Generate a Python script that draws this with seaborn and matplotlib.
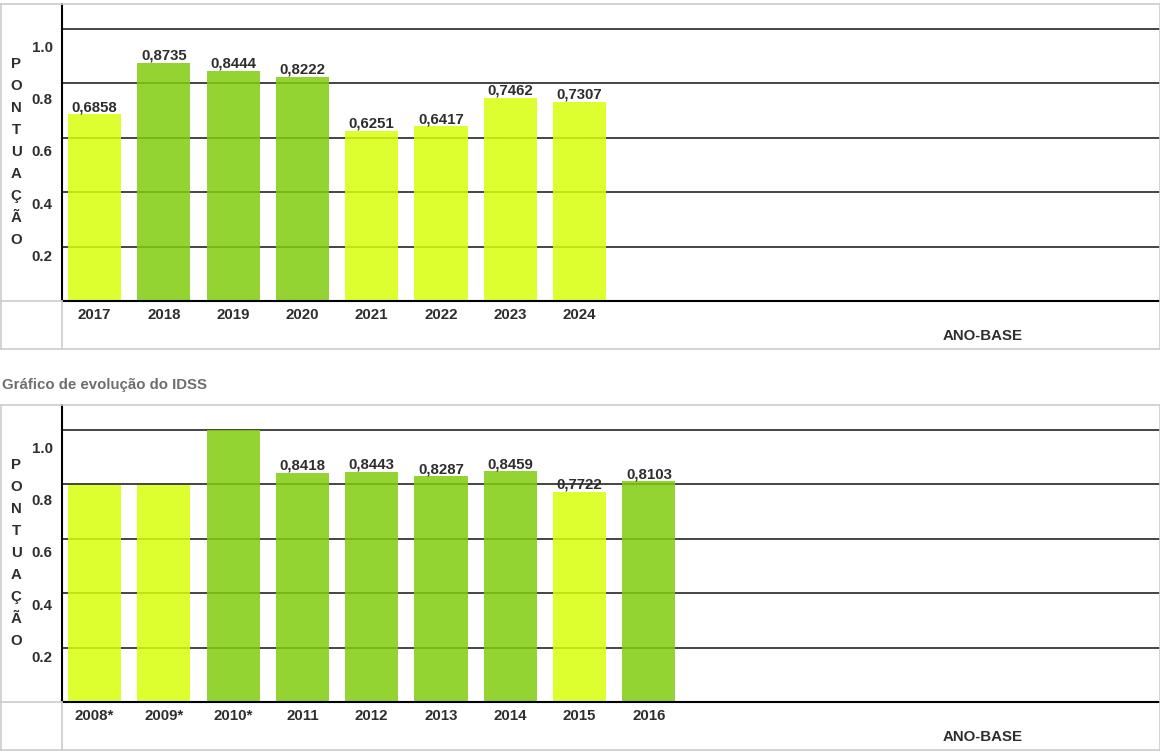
import matplotlib
matplotlib.use('Agg')
import matplotlib.pyplot as plt
import seaborn as sns
import pandas as pd
from matplotlib.lines import Line2D

# Data
top_years = ['2017', '2018', '2019', '2020', '2021', '2022', '2023', '2024']
top_values = [0.6858, 0.8735, 0.8444, 0.8222, 0.6251, 0.6417, 0.7462, 0.7307]

bottom_years = ['2008*', '2009*', '2010*', '2011', '2012', '2013', '2014', '2015', '2016']
bottom_values = [0.795, 0.795, 1.0, 0.8418, 0.8443, 0.8287, 0.8459, 0.7722, 0.8103]

grid_ticks = [0.2, 0.4, 0.6, 0.8, 1.0]
tick_labels = ['0.2', '0.4', '0.6', '0.8', '1.0']
axis_letters = list('PONTUAÇÃO')
title = 'Gráfico de evolução do IDSS'

YELLOW = (215 / 255, 1.0, 10 / 255)
GREEN = (128 / 255, 205 / 255, 15 / 255)
TXT = '#2e2e2e'
BORDER = '#cccccc'

sns.set_style('white')
plt.rcParams['font.family'] = ['Liberation Sans', 'DejaVu Sans']

W, H = 1160, 755
fig = plt.figure(figsize=(W / 100, H / 100), dpi=100)


def fx(px):
    return px / W


def fy(py):
    return 1 - py / H


def hline(x0, x1, y, color, lw=1.0):
    fig.add_artist(Line2D([fx(x0), fx(x1)], [fy(y), fy(y)], color=color, lw=lw,
                          transform=fig.transFigure))


def vline(x, y0, y1, color, lw=1.0):
    fig.add_artist(Line2D([fx(x), fx(x)], [fy(y0), fy(y1)], color=color, lw=lw,
                          transform=fig.transFigure))


def panel(top, years, values, show_label):
    base = top + 297
    ax = fig.add_axes([fx(62), fy(base), fx(1160 - 62), (base - top) / H])
    df = pd.DataFrame({'ano': years, 'valor': values})
    colors = [GREEN if v >= 0.8 else YELLOW for v in values]
    sns.barplot(data=df, x='ano', y='valor', hue='ano', palette=colors,
                legend=False, width=0.765, saturation=1, alpha=0.85,
                linewidth=0, ax=ax)
    ax.set_xlim(-0.469, 15.375)
    ax.set_ylim(0, (base - top) / 272.5)
    ax.set_yticks(grid_ticks)
    ax.yaxis.grid(True, color='#444444', lw=1.4)
    ax.set_axisbelow(True)
    ax.tick_params(axis='y', left=False, labelleft=False)
    ax.tick_params(axis='x', bottom=False, pad=1.3, labelsize=10.8, labelcolor=TXT)
    for lab in ax.get_xticklabels():
        lab.set_fontweight('bold')
    ax.set_xlabel('')
    ax.set_ylabel('')
    for s in ['top', 'right']:
        ax.spines[s].set_visible(False)
    for s in ['left', 'bottom']:
        ax.spines[s].set_color('black')
        ax.spines[s].set_linewidth(1.5)

    # value labels on top of the bars
    for i, (v, show) in enumerate(zip(values, show_label)):
        if show:
            ax.text(i, v, f'{v:.4f}'.replace('.', ','), ha='center', va='bottom',
                    fontsize=10.8, fontweight='bold', color=TXT)

    # y labels sit a little below their gridlines, like in the source
    for t, lab in zip(grid_ticks, tick_labels):
        ax.text(-0.018, 0.96 * t - 0.03, lab, transform=ax.get_yaxis_transform(),
                ha='center', va='center', fontsize=10.8, fontweight='bold', color=TXT)

    for k, ch in enumerate(axis_letters):
        fig.text(fx(16), fy(top + 60 + 22 * k), ch, ha='center', va='center',
                 fontsize=10.8, fontweight='bold', color=TXT)

    fig.text(fx(983), fy(top + 332), 'ANO-BASE', ha='center', va='center',
             fontsize=10.8, fontweight='bold', color=TXT)

    # light outer frame of the table
    hline(0, 1160, top, BORDER, 1.2)
    hline(0, 1160, top + 345, BORDER, 1.2)
    hline(0, 62, base, BORDER, 1.2)
    vline(0.5, top, top + 345, BORDER, 1.2)
    vline(1159.5, top, top + 345, BORDER, 1.2)
    vline(62, base, top + 345, BORDER, 1.2)
    return ax


panel(4, top_years, top_values, [True] * len(top_years))
panel(405, bottom_years, bottom_values, [not y.endswith('*') for y in bottom_years])

fig.text(fx(2), fy(385), title, ha='left', va='center', fontsize=10.8,
         fontweight='bold', color='#6e6e6e')

fig.savefig('out.png', dpi=100)
